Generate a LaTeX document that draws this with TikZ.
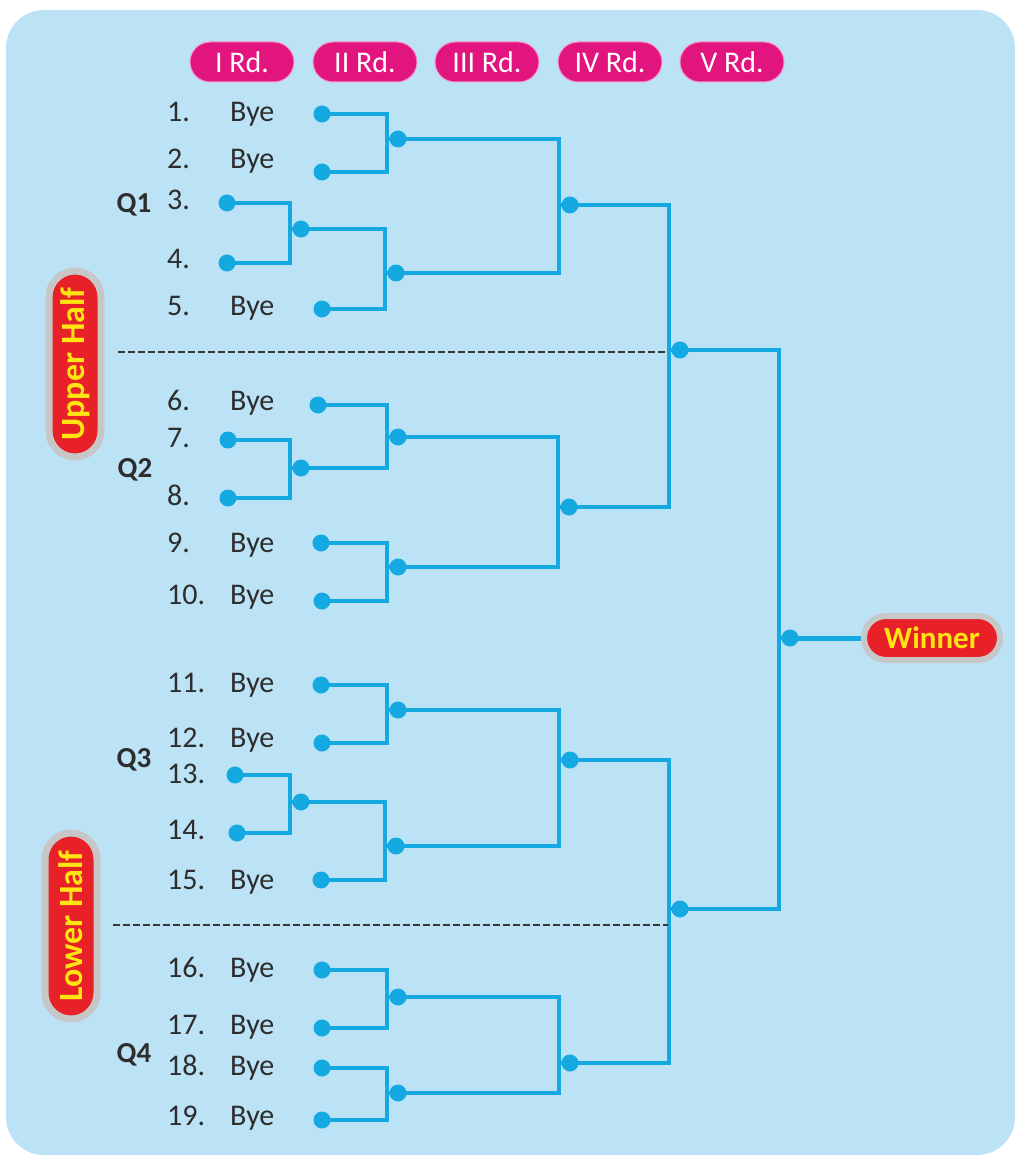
\documentclass[tikz,border=0pt]{standalone}
\usepackage{fontspec}
\setmainfont{Carlito}
\usetikzlibrary{calc}
\definecolor{bg}{RGB}{187,226,245}
\definecolor{ln}{RGB}{20,170,225}
\definecolor{mag}{RGB}{226,20,126}
\definecolor{pillred}{RGB}{232,32,40}
\definecolor{pilltxt}{RGB}{255,228,20}
\definecolor{dashc}{RGB}{55,55,55}
\definecolor{txt}{RGB}{45,45,45}
\newcommand\brk[3]{%
  \draw[br] (#1.center) -| ([xshift=-11pt]#3.center) -- (#3.center);
  \draw[br] ([xshift=-11pt]#3.center) |- (#2.center);}
\begin{document}
\begin{tikzpicture}[x=1pt,y=-1pt,
  dot/.style={circle,fill=ln,inner sep=0pt,minimum size=17pt},
  br/.style={draw=ln,line width=3.5pt},
  hdr/.style={fill=mag,draw=white!55!mag,line width=1pt,rounded corners=20pt,minimum width=104pt,minimum height=40pt,inner sep=0pt,text=white,font=\fontsize{30}{30}\selectfont},
  half/.style={fill=pillred,draw=black!22,line width=7pt,rounded corners=26pt,minimum width=186pt,minimum height=52pt,inner sep=0pt,text=pilltxt,font=\fontsize{34}{34}\selectfont\bfseries,rotate=90},
  win/.style={fill=pillred,draw=black!22,line width=6pt,rounded corners=22pt,minimum width=136pt,minimum height=44pt,inner sep=0pt,text=pilltxt,font=\fontsize{31}{31}\selectfont\bfseries},
  lbl/.style={anchor=west,inner sep=0pt,text=txt,text height=20pt,text depth=6pt,font=\fontsize{30}{30}\selectfont},
  qlbl/.style={inner sep=0pt,text=txt,font=\fontsize{29}{29}\selectfont\bfseries},
  dsh/.style={draw=dashc,line width=1.6pt,dash pattern=on 7pt off 3pt}
]
\useasboundingbox (0,0) rectangle (1016,1158);
\fill[white] (0,0) rectangle (1016,1158);
\fill[bg,rounded corners=38pt] (6,10) rectangle (1015,1155);

% headers
\node[hdr] (h1) at (242,62) {I Rd.};
\node[hdr] (h2) at (365,62) {II Rd.};
\node[hdr] (h3) at (487,62) {III Rd.};
\node[hdr] (h4) at (610,62) {IV Rd.};
\node[hdr] (h5) at (732,62) {V Rd.};

% side pills
\node[half] (uh) at (75,364) {Upper Half};
\node[half] (lh) at (71,926) {Lower Half};
\node[win] (wn) at (932,638) {Winner};

% Q labels
\node[qlbl] (Q1) at (134,205) {Q1};
\node[qlbl] (Q2) at (135,470) {Q2};
\node[qlbl] (Q3) at (134,760) {Q3};
\node[qlbl] (Q4) at (134,1055) {Q4};

% entry labels
\foreach \n/\y/\b in {1/115/1,2/162/1,3/203/0,4/262/0,5/308/1,6/403/1,7/440/0,8/498/0,9/545/1,10/597/1,
  11/685/1,12/740/1,13/776/0,14/832/0,15/882/1,16/970/1,17/1027/1,18/1068/1,19/1118/1}{
  \node[lbl] (n\n) at (167,\y) {\n.};
  \ifnum\b=1 \node[lbl] (b\n) at (230,\y) {Bye};\fi
}

% leaf dots
\node[dot] (p1) at (322,114) {};
\node[dot] (p2) at (322,172) {};
\node[dot] (p3) at (227,203) {};
\node[dot] (p4) at (227,263) {};
\node[dot] (p5) at (322,309) {};
\node[dot] (p6) at (318,405) {};
\node[dot] (p7) at (228,440) {};
\node[dot] (p8) at (228,498) {};
\node[dot] (p9) at (321,543) {};
\node[dot] (p10) at (322,601) {};
\node[dot] (p11) at (321,685) {};
\node[dot] (p12) at (322,743) {};
\node[dot] (p13) at (235,775) {};
\node[dot] (p14) at (237,833) {};
\node[dot] (p15) at (321,880) {};
\node[dot] (p16) at (322,970) {};
\node[dot] (p17) at (322,1028) {};
\node[dot] (p18) at (322,1068) {};
\node[dot] (p19) at (322,1120) {};

% junction dots
\node[dot] (a12) at (398,139) {};
\node[dot] (a34) at (301,229) {};
\node[dot] (a345) at (396,273) {};
\node[dot] (q1) at (570,205) {};
\node[dot] (a78) at (301,468) {};
\node[dot] (a678) at (398,437) {};
\node[dot] (a910) at (398,567) {};
\node[dot] (q2) at (569,507) {};
\node[dot] (hu) at (680,350) {};
\node[dot] (a1112) at (398,710) {};
\node[dot] (a1314) at (301,802) {};
\node[dot] (a1315) at (396,846) {};
\node[dot] (q3) at (570,760) {};
\node[dot] (a1617) at (398,997) {};
\node[dot] (a1819) at (398,1093) {};
\node[dot] (q4) at (570,1063) {};
\node[dot] (hl) at (680,909) {};
\node[dot] (jw) at (790,638) {};

% brackets
\brk{p1}{p2}{a12}
\brk{p3}{p4}{a34}
\brk{a34}{p5}{a345}
\brk{a12}{a345}{q1}
\brk{p7}{p8}{a78}
\brk{p6}{a78}{a678}
\brk{p9}{p10}{a910}
\brk{a678}{a910}{q2}
\brk{q1}{q2}{hu}
\brk{p11}{p12}{a1112}
\brk{p13}{p14}{a1314}
\brk{a1314}{p15}{a1315}
\brk{a1112}{a1315}{q3}
\brk{p16}{p17}{a1617}
\brk{p18}{p19}{a1819}
\brk{a1617}{a1819}{q4}
\brk{q3}{q4}{hl}
\brk{hu}{hl}{jw}
\draw[draw=ln,line width=5pt] (jw.center) -- (wn.west);

% dashed separators
\coordinate (d1a) at (118,352);
\coordinate (d1b) at (665,352);
\coordinate (d2a) at (113,925);
\coordinate (d2b) at (668,925);
\draw[dsh] (d1a) -- (d1b);
\draw[dsh] (d2a) -- (d2b);
\end{tikzpicture}
\end{document}
